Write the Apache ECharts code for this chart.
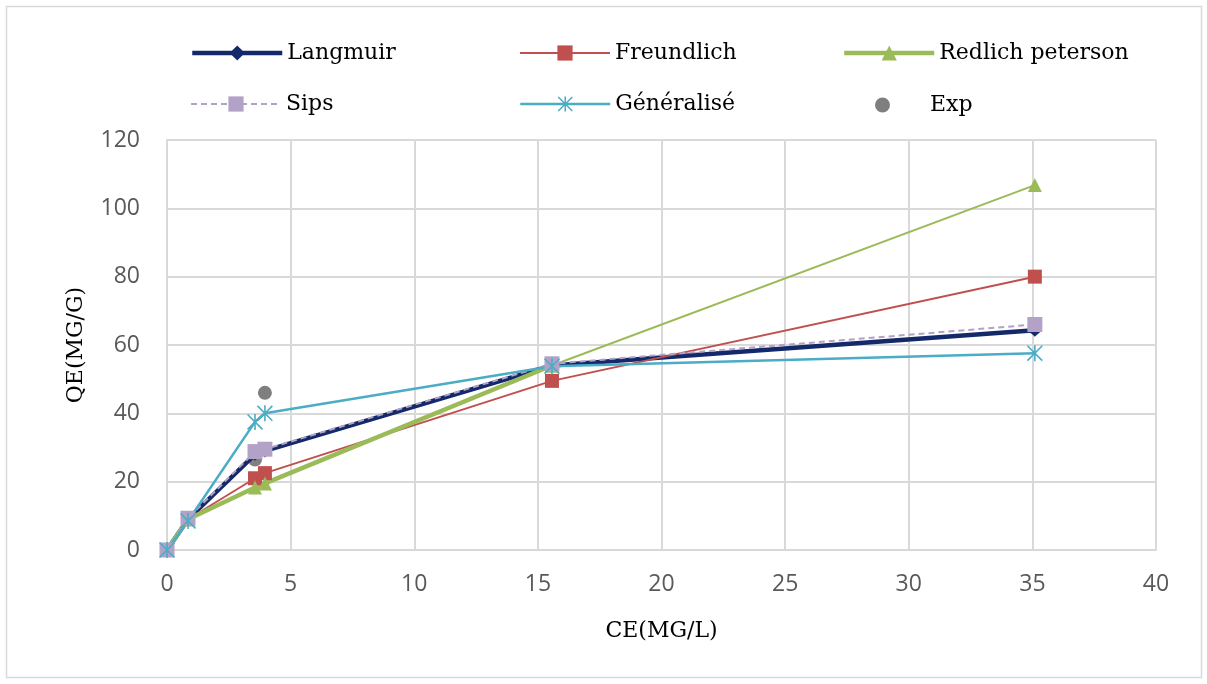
<!DOCTYPE html>
<html>
<head>
<meta charset="utf-8">
<script src="https://cdn.jsdelivr.net/npm/echarts@6/dist/echarts.min.js"></script>
<style>
  html, body { margin: 0; padding: 0; background: #fff; }
  #chart { width: 1207px; height: 684px; }
</style>
</head>
<body>
<div id="chart"></div>
<script>
// Equilibrium concentration Ce (mg/L) shared by every isotherm
const ce = [0, 0.85, 3.56, 3.96, 15.57, 35.1];

// Adsorbed amount qe (mg/g) for each model and the experiment
const langmuir   = [0, 9.0, 28.0, 29.0, 54.0, 64.3];
const freundlich = [0, 9.0, 21.0, 22.5, 49.5, 80.0];
const redlich    = [0, 9.0, 18.3, 19.5, 54.0, 106.8];
const sips       = [0, 9.3, 28.8, 29.5, 54.5, 66.0];
const generalise = [0, 8.5, 37.5, 40.0, 53.8, 57.6];
const exp        = [0, 9.0, 26.5, 46.0, 54.3, 65.0];

const xTicks = [0, 5, 10, 15, 20, 25, 30, 35, 40];
const yTicks = [0, 20, 40, 60, 80, 100, 120];

const pairs = (ys, from, to) => ce.slice(from, to).map((x, i) => [x, ys[from + i]]);

// six-armed asterisk marker
const STAR = 'path://M9 0L11 0L11 20L9 20ZM0 1.4L1.4 0L20 18.6L18.6 20ZM18.6 0L20 1.4L1.4 20L0 18.6Z';

const serif = '"DejaVu Serif", "Liberation Serif", serif';
const sans = '"Open Sans", "Noto Sans", sans-serif';
const gridColor = '#d9d9d9';

function legendAt(name, left, top, extra) {
  return Object.assign({
    data: [name],
    left: left, top: top,
    itemWidth: 90, itemHeight: 19,
    itemGap: 0,
    lineStyle: { width: 'inherit' },
    textStyle: { fontFamily: serif, fontSize: 22, color: '#000' },
    selectedMode: false
  }, extra || {});
}

const option = {
  animation: false,
  backgroundColor: '#fff',
  graphic: [{
    type: 'rect',
    shape: { x: 6.5, y: 6.5, width: 1195, height: 671 },
    style: { fill: null, stroke: gridColor, lineWidth: 1.5 },
    silent: true
  }],
  legend: [
    legendAt('Langmuir', 185, 37),
    legendAt('Freundlich', 514, 37),
    legendAt('Redlich peterson', 837, 37),
    legendAt('Sips', 185, 88),
    legendAt('Généralisé', 514, 88),
    legendAt('Exp', 870, 89, {
      itemWidth: 15, itemHeight: 15,
      textStyle: { fontFamily: serif, fontSize: 22, color: '#000', padding: [0, 0, 0, 35] }
    })
  ],
  grid: { left: 167, right: 51, top: 140, bottom: 134, containLabel: false },
  xAxis: {
    type: 'value',
    min: xTicks[0], max: xTicks[xTicks.length - 1], interval: 5,
    name: 'CE(MG/L)', nameLocation: 'middle', nameGap: 70,
    nameTextStyle: { fontFamily: serif, fontSize: 22, color: '#000' },
    axisLine: { show: true, lineStyle: { color: gridColor, width: 2 } },
    axisTick: { show: false },
    axisLabel: { margin: 23, fontFamily: sans, fontSize: 23, color: '#595959' },
    splitLine: { show: true, lineStyle: { color: gridColor, width: 2 } }
  },
  yAxis: {
    type: 'value',
    min: yTicks[0], max: yTicks[yTicks.length - 1], interval: 20,
    name: 'QE(MG/G)', nameLocation: 'middle', nameGap: 80,
    nameTextStyle: { fontFamily: serif, fontSize: 22, color: '#000' },
    axisLine: { show: true, lineStyle: { color: gridColor, width: 2 } },
    axisTick: { show: false },
    axisLabel: { margin: 27, fontFamily: sans, fontSize: 23, color: '#595959' },
    splitLine: { show: true, lineStyle: { color: gridColor, width: 2 } }
  },
  series: [
    {
      name: 'Langmuir', type: 'line', data: pairs(langmuir, 0),
      symbol: 'diamond', symbolSize: 13,
      itemStyle: { color: '#14296a' },
      lineStyle: { color: '#14296a', width: 4.5 }
    },
    {
      name: 'Freundlich', type: 'line', data: pairs(freundlich, 0),
      symbol: 'rect', symbolSize: 14,
      itemStyle: { color: '#c0504d' },
      lineStyle: { color: '#c0504d', width: 2 }
    },
    {
      name: 'Redlich peterson', type: 'line', data: pairs(redlich, 0, 5),
      symbol: 'triangle', symbolSize: 14,
      itemStyle: { color: '#9bbb59' },
      lineStyle: { color: '#9bbb59', width: 4.5 }
    },
    {
      name: 'Redlich peterson', type: 'line', data: pairs(redlich, 4),
      symbol: 'triangle', symbolSize: 14,
      itemStyle: { color: '#9bbb59' },
      lineStyle: { color: '#9bbb59', width: 2 }
    },
    {
      name: 'Sips', type: 'line', data: pairs(sips, 0),
      symbol: 'rect', symbolSize: 15,
      itemStyle: { color: '#b3a2c7' },
      lineStyle: { color: '#b3a2c7', width: 2, type: [6, 4] }
    },
    {
      name: 'Généralisé', type: 'line', data: pairs(generalise, 0),
      symbol: STAR, symbolSize: 16,
      itemStyle: { color: '#4bacc6' },
      lineStyle: { color: '#4bacc6', width: 2.5 }
    },
    {
      name: 'Exp', type: 'scatter', data: pairs(exp, 0),
      symbol: 'circle', symbolSize: 14,
      itemStyle: { color: '#7f7f7f', opacity: 1 }
    }
  ]
};

const chart = echarts.init(document.getElementById('chart'), null, { renderer: 'canvas' });
chart.setOption(option);
</script>
</body>
</html>
